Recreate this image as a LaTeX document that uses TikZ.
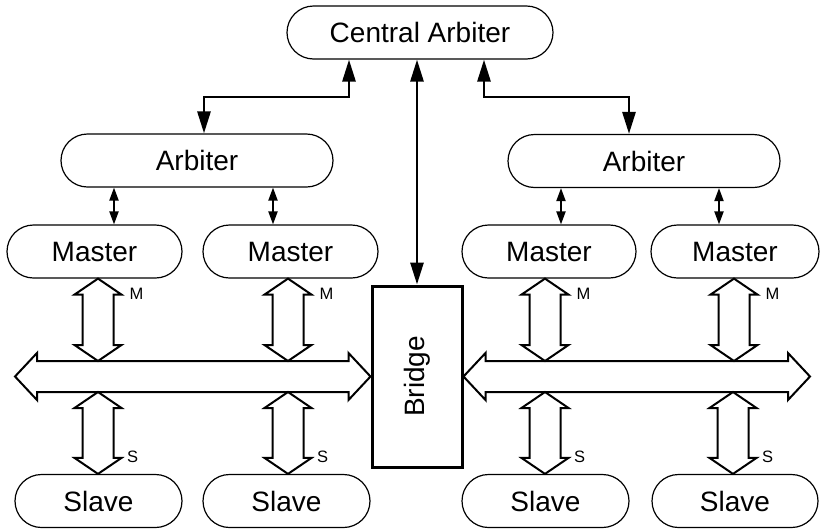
\documentclass[tikz,border=0pt]{standalone}
\usepackage{fontspec}
\usepackage{graphicx}
\setmainfont{Liberation Sans}
\usetikzlibrary{arrows.meta,calc,shapes.misc}

% Hollow vertical bus drop: #1 upper tip, #2 lower tip
\newcommand{\vbus}[2]{%
  \draw[busline] let \p1=(#1), \p2=(#2) in
    (\p1) -- ++(23.5pt,-16pt) -- ++(-8pt,0pt)
    -- (\x1+15.5pt,\y2+16pt) -- ++(8pt,0pt) -- (\p2)
    -- ++(-23.5pt,16pt) -- ++(8pt,0pt)
    -- (\x1-15.5pt,\y1-16pt) -- ++(-8pt,0pt) -- cycle;}

% Hollow horizontal bus: #1 left tip, #2 right tip
\newcommand{\hbus}[2]{%
  \draw[busline] let \p1=(#1), \p2=(#2) in
    (\p1) -- ++(22pt,23.5pt) -- ++(0pt,-8pt)
    -- (\x2-22pt,\y1+15.5pt) -- ++(0pt,8pt) -- (\p2)
    -- ++(-22pt,-23.5pt) -- ++(0pt,8pt)
    -- (\x1+22pt,\y1-15.5pt) -- ++(0pt,-8pt) -- cycle;}

\tikzset{
  unit/.style={draw, line width=1.2pt, rounded rectangle,
    rounded rectangle arc length=180,
    minimum height=53pt, inner sep=0pt, text height=20pt, text depth=0pt,
    font=\fontsize{28}{30}\selectfont},
  bridgebox/.style={draw, line width=3pt, minimum width=90pt,
    minimum height=181pt, inner sep=0pt, font=\fontsize{28}{30}\selectfont},
  bigarrow/.style={line width=2.8pt,
    {Triangle[length=22pt,width=13pt]}-{Triangle[length=22pt,width=13pt]}},
  ctl/.style={line width=2pt,
    {Triangle[length=13pt,width=9pt]}-{Triangle[length=13pt,width=9pt]}},
  busline/.style={line width=2pt, line join=miter},
  tag/.style={anchor=west, inner sep=0pt, font=\fontsize{16.5}{18}\selectfont}
}

\begin{document}
\begin{tikzpicture}[x=1pt, y=-1pt]
\useasboundingbox (0,0) rectangle (820,528);

% arbiters
\node[unit, minimum width=266pt] (CA) at (420,32.5) {Central Arbiter};
\node[unit, minimum width=272pt] (AL) at (197,160.5) {Arbiter};
\node[unit, minimum width=272pt] (AR) at (644,161) {Arbiter};

% masters
\node[unit, minimum width=175pt] (M1) at (94.5,251.5) {Master};
\node[unit, minimum width=175pt] (M2) at (290.5,251.5) {Master};
\node[unit, minimum width=174pt] (M3) at (549,251.5) {Master};
\node[unit, minimum width=168pt] (M4) at (735,251.5) {Master};

% slaves
\node[unit, minimum width=167pt] (S1) at (98.5,501) {Slave};
\node[unit, minimum width=167pt] (S2) at (286.5,501) {Slave};
\node[unit, minimum width=167pt] (S3) at (545.5,501) {Slave};
\node[unit, minimum width=166pt] (S4) at (735,501) {Slave};

% bridge between the two buses
\node[bridgebox] (BR) at (417,376.5) {\rotatebox{90}{Bridge}};

% arbitration links
\coordinate (jl) at (349,97);
\coordinate (jr) at (484,97);
\draw[bigarrow] (AL.north -| 204,0) |- (jl) -- (CA.south -| jl);
\draw[bigarrow] (AR.north -| 629,0) |- (jr) -- (CA.south -| jr);
\draw[bigarrow] (CA.south -| BR.north) -- (BR.north);

\draw[ctl] (AL.south -| 114,0) -- (M1.north -| 114,0);
\draw[ctl] (AL.south -| 273,0) -- (M2.north -| 273,0);
\draw[ctl] (AR.south -| 561,0) -- (M3.north -| 561,0);
\draw[ctl] (AR.south -| 719,0) -- (M4.north -| 719,0);

% system buses
\coordinate (lbL) at (15,376.5);
\coordinate (rbR) at (810,376.5);
\hbus{lbL}{BR.west}
\hbus{BR.east}{rbR}

% master ports
\vbus{M1.south -| 98,0}{98,361}
\vbus{M2.south -| 288,0}{288,361}
\vbus{M3.south -| 545,0}{545,361}
\vbus{M4.south -| 734,0}{734,361}
\node[tag] (tm1) at (129.5,294) {M};
\node[tag] (tm2) at (319.5,294) {M};
\node[tag] (tm3) at (576.5,294) {M};
\node[tag] (tm4) at (765.5,294) {M};

% slave ports
\vbus{98,392}{S1.north -| 98,0}
\vbus{288,392}{S2.north -| 288,0}
\vbus{545,392}{S3.north -| 545,0}
\vbus{733,392}{S4.north -| 733,0}
\node[tag] (ts1) at (127,457) {S};
\node[tag] (ts2) at (317,457) {S};
\node[tag] (ts3) at (574,457) {S};
\node[tag] (ts4) at (762,457) {S};
\end{tikzpicture}
\end{document}
